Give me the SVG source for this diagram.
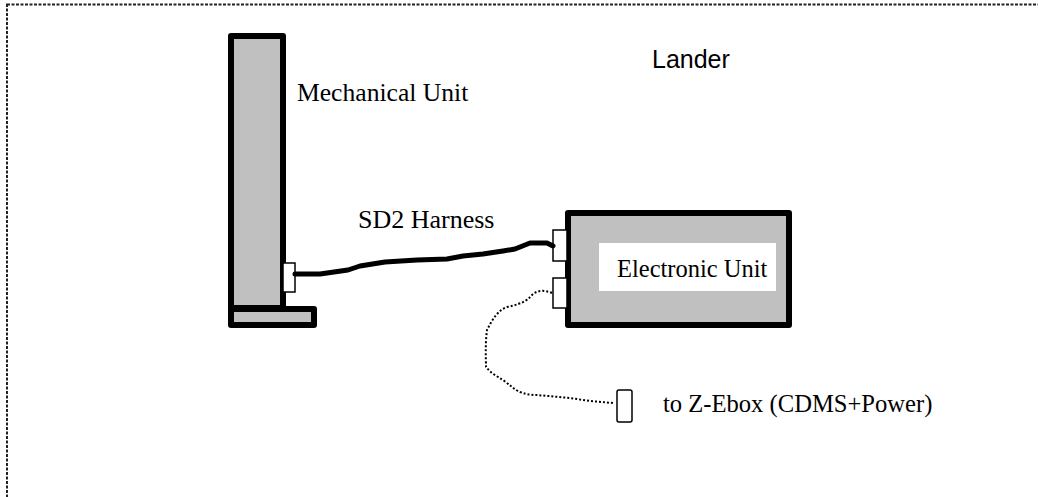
<svg xmlns="http://www.w3.org/2000/svg" width="1038" height="497" viewBox="0 0 1038 497">
  <style>
    .frame { fill: none; stroke: #222; stroke-width: 2; stroke-dasharray: 3 1.5; }
    .unit { fill: #c0c0c0; stroke: #000; stroke-width: 6; stroke-linejoin: round; }
    .plug { fill: #fff; stroke: #000; stroke-width: 1.5; }
    .harness { fill: none; stroke: #000; stroke-width: 5; stroke-linejoin: round; stroke-linecap: round; }
    .cable { fill: none; stroke: #000; stroke-width: 2; stroke-dasharray: 2 2; }
    .serif { font-family: "Liberation Serif", "Times New Roman", serif; font-size: 25px; fill: #000; }
    .sans { font-family: "Liberation Sans", Arial, sans-serif; font-size: 25px; fill: #000; }
  </style>

  <!-- lander boundary (extends past the right and bottom edges) -->
  <rect class="frame" x="7" y="4.5" width="1100" height="600"/>
  <text class="sans" x="652" y="68">Lander</text>

  <g id="mechanical-unit">
    <rect class="unit" x="231" y="36" width="52" height="272"/>
    <rect class="unit" x="231" y="309" width="83" height="16"/>
    <rect class="plug" x="283" y="263" width="12" height="29"/>
    <text class="serif" x="297" y="101" style="font-size:25.6px">Mechanical Unit</text>
  </g>

  <g id="electronic-unit">
    <rect class="unit" x="568" y="213" width="221" height="112"/>
    <rect x="599" y="243" width="177" height="48" fill="#fff"/>
    <rect class="plug" x="553" y="230" width="14" height="31"/>
    <rect class="plug" x="553" y="278" width="14" height="30"/>
    <text class="serif" x="617" y="277" style="font-size:24.5px">Electronic Unit</text>
  </g>

  <g id="z-ebox-plug">
    <rect class="plug" x="617" y="390" width="15" height="32" rx="2"/>
    <text class="serif" x="663" y="412" style="font-size:24.6px">to Z-Ebox (CDMS+Power)</text>
  </g>

  <g id="connectors">
    <path class="harness" d="M295,274 L320,274 L348,270 L360,266 L385,262 L417,260 L447,259 L463,256 L483,254 L503,251 L515,249 L530,243 L547,243 L553,246"/>
    <path class="cable" d="M552,293 C545,290 538,290 533,294 C528,299 526,303 507,307 C498,310 492,320 487,330 C485,345 486,360 486,367 C492,374 498,377 503,380 C510,385 515,390 520,392 C528,395 532,395 537,395 L570,398 L590,401 L613,403"/>
    <text class="serif" x="358" y="228" style="font-size:26px">SD2 Harness</text>
  </g>
</svg>
